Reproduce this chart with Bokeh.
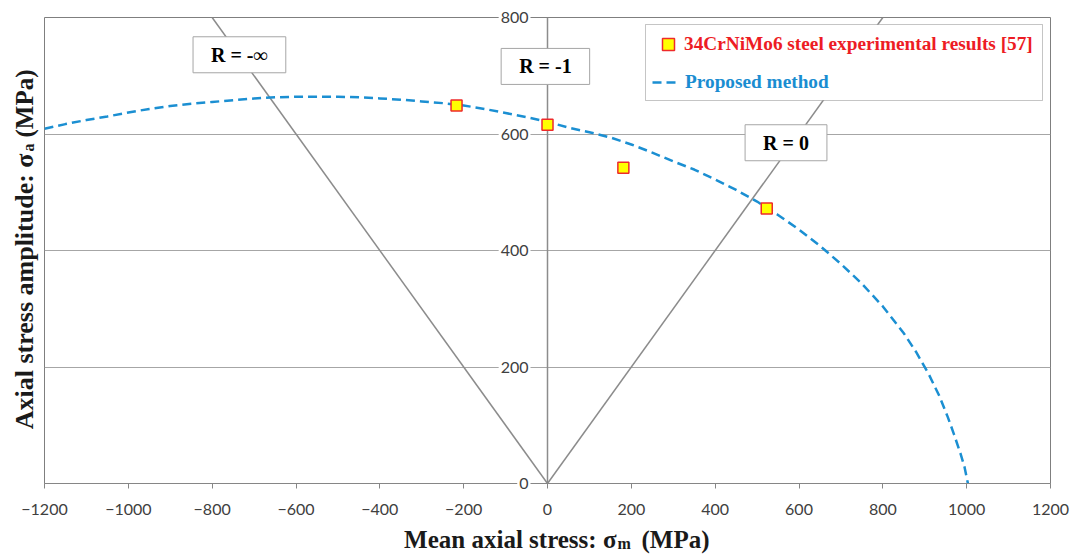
import math
from bokeh.plotting import figure
from bokeh.models import (Range1d, FixedTicker, Grid, Label, Legend, LegendItem,
                          BoxAnnotation)
from bokeh.core.properties import value
from bokeh.embed import file_html
from bokeh.resources import INLINE

# ---------------- data ----------------
# experimental results (34CrNiMo6 steel)
exp_sm = [-217, 0, 181, 523]
exp_sa = [649, 616, 542, 472]

# proposed method curve
curve_sm = [-1200, -1150, -1100, -1050, -1000, -950, -900, -850, -800, -750,
            -700, -650, -600, -550, -500, -450, -400, -350, -300, -250,
            -200, -150, -100, -50, 0, 50, 100, 150, 200, 250,
            300, 350, 400, 450, 500, 550, 600, 650, 700, 750,
            800, 850, 880, 910, 935, 955, 970, 985, 995, 1003]
curve_sa = [609, 617, 624, 630, 637, 643, 648, 652, 655, 658,
            661, 663, 664, 664, 664, 663, 661, 659, 656, 653,
            649, 643, 636, 629, 621, 611, 603, 594, 582, 568,
            553, 539, 522, 504, 484, 461, 436, 408, 377, 343,
            304, 258, 225, 187, 150, 114, 84, 52, 28, 0]

# stress-ratio lines R = -inf, R = -1, R = 0
r_lines_sm = [[0, -800], [0, 0], [0, 800]]
r_lines_sa = [[0, 800], [0, 800], [0, 800]]
r_labels = ["R = -\u221e", "R = -1", "R = 0"]

x_ticks = [-1200, -1000, -800, -600, -400, -200, 0, 200, 400, 600, 800, 1000, 1200]
y_ticks = [0, 200, 400, 600, 800]
y_tick_labels = ["0", "200", "400", "600", "800"]

SERIF = "Liberation Serif"

p = figure(width=1072, height=556,
           x_range=Range1d(-1200, 1200), y_range=Range1d(0, 800),
           y_axis_location=None,
           output_backend="svg", toolbar_location=None,
           min_border_left=44, min_border_right=22,
           min_border_top=17, min_border_bottom=73)
p.background_fill_color = "white"
p.border_fill_color = "white"
p.outline_line_color = "#7f7f7f"
p.outline_line_width = 1

# x axis
p.xaxis.ticker = FixedTicker(ticks=x_ticks)
p.xaxis.axis_line_color = "#868686"
p.xaxis.major_tick_line_color = "#868686"
p.xaxis.major_tick_out = 5
p.xaxis.major_tick_in = 0
p.xaxis.minor_tick_line_color = None
p.xaxis.major_label_text_font = "Lato"
p.xaxis.major_label_text_font_size = "16px"
p.xaxis.major_label_text_color = "#404040"
p.xaxis.major_label_standoff = 15
p.xgrid.visible = False
p.ygrid.visible = False

ygrid = Grid(dimension=1, ticker=FixedTicker(ticks=y_ticks[1:]),
             grid_line_color="#a6a6a6", grid_line_width=1)
p.add_layout(ygrid)

# stress ratio lines
p.multi_line(r_lines_sm, r_lines_sa, line_color="#8c8c8c", line_width=1.5)

# proposed method curve
curve = p.line(curve_sm, curve_sa, line_color="#1b8fd2", line_width=2.5,
               line_dash="9 5")

# experimental points
pts = p.scatter(exp_sm, exp_sa, marker="square", size=11,
                fill_color="#ffff00", line_color="#ee2a2a", line_width=1.5)

# y tick labels placed next to the vertical axis at x = 0 (overlay: not clipped)
p.text(x=[0] * len(y_ticks), y=y_ticks, text=y_tick_labels, x_offset=-17,
       text_align="right", text_baseline="middle", text_font=value("Lato"),
       text_font_size="16px", text_color="#404040",
       background_fill_color="white", padding=2, level="overlay")

# R labels
for txt, (lx, ly) in zip(r_labels, [(-735, 736), (-5, 716), (569, 585)]):
    p.add_layout(Label(x=lx, y=ly, text=txt, text_align="center",
                       text_baseline="middle", text_font=SERIF,
                       text_font_style="bold", text_font_size="20px",
                       text_color="black", background_fill_color="white",
                       border_line_color="#a6a6a6", border_line_width=1,
                       padding=(18, 7)))

# legend box
p.add_layout(BoxAnnotation(left=601, right=998, top=459, bottom=383,
                           left_units="screen", right_units="screen",
                           top_units="screen", bottom_units="screen",
                           fill_color="white", fill_alpha=1.0,
                           line_color="#404040", line_width=1, level="annotation"))

leg_a = Legend(items=[LegendItem(label="34CrNiMo6 steel experimental results [57]",
                                 renderers=[pts])],
               location=(609, 424), glyph_width=30, glyph_height=30,
               label_height=30, label_standoff=1, padding=0, margin=0,
               label_text_font=SERIF, label_text_font_style="bold",
               label_text_font_size="19.3px", label_text_color="#ed1c24",
               background_fill_alpha=0, border_line_alpha=0)
leg_b = Legend(items=[LegendItem(label="Proposed method", renderers=[curve])],
               location=(608, 390), glyph_width=24, glyph_height=20,
               label_height=20, label_standoff=9, padding=0, margin=0,
               label_text_font=SERIF, label_text_font_style="bold",
               label_text_font_size="19.3px", label_text_color="#1a8dd1",
               background_fill_alpha=0, border_line_alpha=0)
p.add_layout(leg_a)
p.add_layout(leg_b)

# axis titles with subscripts, drawn as unclipped text (overlay level)
ts = dict(text_font=value(SERIF), text_font_style="bold", text_color="#1a1a1a",
          text_baseline="alphabetic", level="overlay")
# x title anchored at data origin (0, 0)
p.text(x=[0], y=[0], text=["Mean axial stress: \u03c3"], x_offset=69, y_offset=56,
       text_align="right", text_font_size="25px", **ts)
p.text(x=[0], y=[0], text=["m"], x_offset=70, y_offset=60,
       text_align="left", text_font_size="16px", **ts)
p.text(x=[0], y=[0], text=["(MPa)"], x_offset=94, y_offset=56,
       text_align="left", text_font_size="25px", **ts)
# y title anchored at (-1200, 0), rotated
p.text(x=[-1200], y=[0], text=["Axial stress amplitude: \u03c3"], x_offset=-20,
       y_offset=-330, angle=math.pi / 2, text_align="right",
       text_font_size="26px", **ts)
p.text(x=[-1200], y=[0], text=["a"], x_offset=-16, y_offset=-332,
       angle=math.pi / 2, text_align="left", text_font_size="16px", **ts)
p.text(x=[-1200], y=[0], text=["(MPa)"], x_offset=-20, y_offset=-346,
       angle=math.pi / 2, text_align="left", text_font_size="25px", **ts)

open("out.html", "w").write(file_html(p, INLINE))
